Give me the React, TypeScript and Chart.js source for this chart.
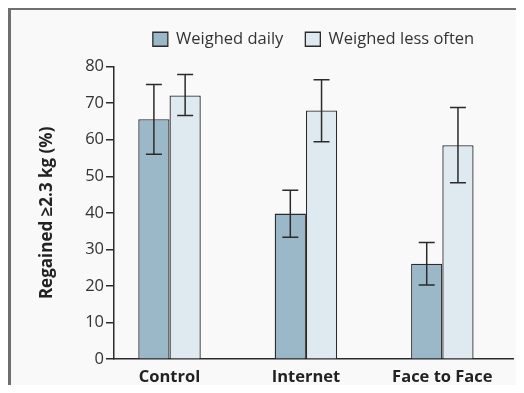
import React, { useEffect, useRef } from "react";
import { Chart, registerables } from "chart.js";

Chart.register(...registerables);

const categories = ["Control", "Internet", "Face to Face"];
const seriesNames = ["Weighed daily", "Weighed less often"];
const dailyValues = [65.6, 39.8, 26.1];
const dailyLower = [56.0, 33.3, 20.3];
const dailyUpper = [75.1, 46.2, 31.9];
const lessValues = [72.1, 68.0, 58.5];
const lessLower = [66.6, 59.4, 48.2];
const lessUpper = [77.8, 76.4, 68.8];
const yTicks = [0, 10, 20, 30, 40, 50, 60, 70, 80];
const yTitle = "Regained \u22652.3 kg (%)";

const FONT = "'Open Sans', Lato, sans-serif";
const DARK = "#2b2b2b";

const errorBarPlugin = {
  id: "errorBars",
  afterDatasetsDraw(chart: any) {
    const ctx = chart.ctx;
    const yScale = chart.scales.y;
    chart.data.datasets.forEach((ds: any, di: number) => {
      const meta = chart.getDatasetMeta(di);
      meta.data.forEach((bar: any, i: number) => {
        const lo = ds.errLower[i];
        const hi = ds.errUpper[i];
        const x = bar.x;
        const yLo = yScale.getPixelForValue(lo);
        const yHi = yScale.getPixelForValue(hi);
        const cap = 8;
        ctx.save();
        ctx.strokeStyle = DARK;
        ctx.lineWidth = 1.5;
        ctx.beginPath();
        ctx.moveTo(x, yLo);
        ctx.lineTo(x, yHi);
        ctx.moveTo(x - cap, yLo);
        ctx.lineTo(x + cap, yLo);
        ctx.moveTo(x - cap, yHi);
        ctx.lineTo(x + cap, yHi);
        ctx.stroke();
        ctx.restore();
      });
    });
  },
};

const legendLayoutPlugin = {
  id: "legendLayout",
  beforeLayout(chart: any) {
    const l = chart.legend;
    if (l && !l.__patched) {
      const origFit = l.fit;
      l.fit = function (this: any) {
        origFit.call(this);
        this.height += 9;
      };
      l.__patched = true;
    }
  },
  afterLayout(chart: any) {
    const l = chart.legend;
    const ca = chart.chartArea;
    if (l && ca) {
      l.left = ca.left;
      l.right = ca.right;
      l.width = ca.right - ca.left;
    }
  },
};

export default function App() {
  const ref = useRef<HTMLCanvasElement | null>(null);

  useEffect(() => {
    if (!ref.current) return;
    const chart = new Chart(ref.current, {
      type: "bar",
      data: {
        datasets: [
          {
            label: seriesNames[0],
            data: categories.map((_, i) => ({ x: i, y: dailyValues[i] })),
            backgroundColor: "#9bb8c9",
            borderColor: DARK,
            borderWidth: 1.3,
            errLower: dailyLower,
            errUpper: dailyUpper,
          } as any,
          {
            label: seriesNames[1],
            data: categories.map((_, i) => ({ x: i, y: lessValues[i] })),
            backgroundColor: "#deeaf0",
            borderColor: DARK,
            borderWidth: 1.3,
            errLower: lessLower,
            errUpper: lessUpper,
          } as any,
        ],
      },
      options: {
        responsive: false,
        animation: false,
        categoryPercentage: 0.458,
        barPercentage: 1,
        layout: { padding: { left: 20, right: 11, top: 8, bottom: 0 } },
        plugins: {
          legend: {
            position: "top",
            labels: {
              font: { family: FONT, size: 16.5 },
              color: "#333",
              boxWidth: 15,
              boxHeight: 14,
              padding: 22,
            },
          },
          tooltip: { enabled: false },
        },
        scales: {
          x: {
            type: "linear",
            offset: false,
            min: -0.407,
            max: 2.518,
            afterBuildTicks: (scale: any) => {
              scale.ticks = categories.map((_, i) => ({ value: i }));
            },
            grid: { display: false, drawTicks: false, offset: false },
            border: { display: true, color: DARK, width: 1.5 },
            ticks: {
              padding: 8,
              color: "#222",
              font: { family: FONT, size: 16.5, weight: "bold" },
              callback: (v: any) => categories[Math.round(Number(v))] ?? "",
            },
          },
          y: {
            min: 0,
            max: 80,
            afterBuildTicks: (scale: any) => {
              scale.ticks = yTicks.map((v) => ({ value: v }));
            },
            afterFit: (scale: any) => {
              scale.width = 94;
            },
            grid: {
              drawOnChartArea: false,
              drawTicks: true,
              tickLength: 8,
              color: DARK,
              lineWidth: 1.5,
            },
            border: { display: true, color: DARK, width: 1.5 },
            ticks: {
              padding: 2,
              color: "#333",
              font: { family: FONT, size: 16.5 },
            },
            title: {
              display: true,
              text: yTitle,
              color: "#222",
              font: { family: FONT, size: 17, weight: "bold" },
              padding: { top: 17, bottom: 10 },
            },
          },
        },
      },
      plugins: [errorBarPlugin, legendLayoutPlugin],
    } as any);
    return () => chart.destroy();
  }, []);

  return (
    <div style={{ position: "relative", width: 524, height: 393, margin: -8, background: "#fff", overflow: "hidden" }}>
      <div style={{ position: "absolute", left: 0, top: 0, width: 524, height: 2, background: "#6f6f6f" }} />
      <div
        style={{
          position: "absolute",
          left: 8,
          top: 7,
          right: 0,
          bottom: 0,
          borderTop: "3px solid #6f6f6f",
          borderLeft: "3px solid #6f6f6f",
          background: "#f9f9f9",
        }}
      />
      <canvas ref={ref} width={524} height={394} style={{ position: "absolute", left: 0, top: 1 }} />
    </div>
  );
}
